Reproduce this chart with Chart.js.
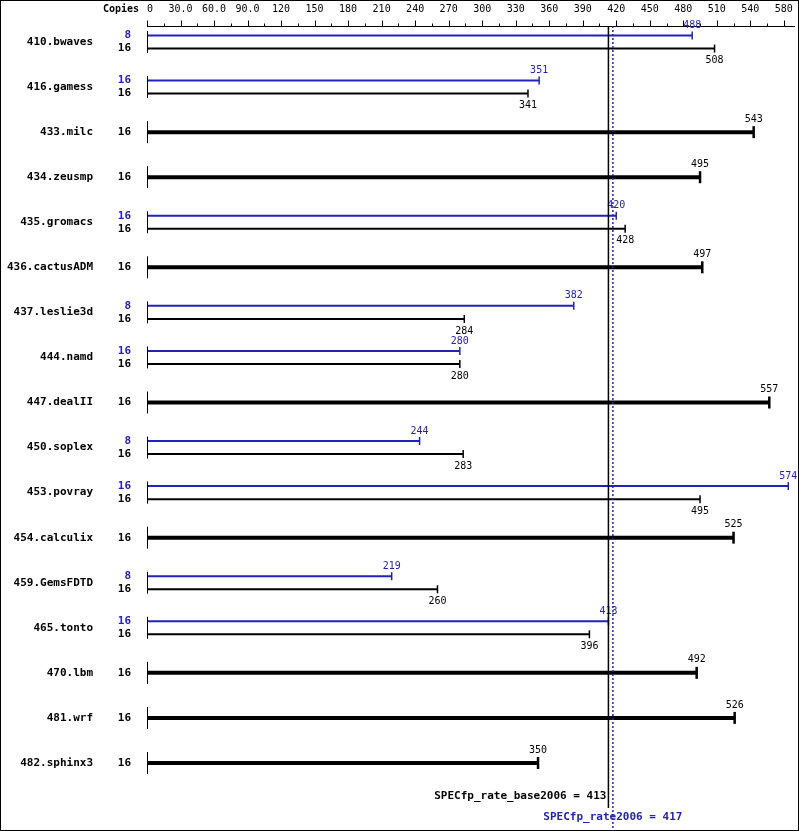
<!DOCTYPE html>
<html><head><meta charset="utf-8">
<script src="https://cdn.jsdelivr.net/npm/chart.js@4/dist/chart.umd.min.js"></script>
<style>html,body{margin:0;padding:0;background:#fff}#w{width:799px;height:831px;position:relative}</style>
</head><body><div id="w"><canvas id="c"></canvas></div>
<script>
const benchmarks=["410.bwaves","416.gamess","433.milc","434.zeusmp","435.gromacs","436.cactusADM","437.leslie3d","444.namd","447.dealII","450.soplex","453.povray","454.calculix","459.GemsFDTD","465.tonto","470.lbm","481.wrf","482.sphinx3"];
const baseValues=[508,341,543,495,428,497,284,280,557,283,495,525,260,396,492,526,350];
const peakValues=[488,351,null,null,420,null,382,280,null,244,574,null,219,413,null,null,null];
const baseCopies=[16,16,16,16,16,16,16,16,16,16,16,16,16,16,16,16,16];
const peakCopies=[8,16,null,null,16,null,8,16,null,8,16,null,8,16,null,null,null];
const axisTicks=[0,30,60,90,120,150,180,210,240,270,300,330,360,390,420,450,480,510,540,570];
const axisTickLabels=["0","30.0","60.0","90.0","120","150","180","210","240","270","300","330","360","390","420","450","480","510","540","580"];
const baseMean=413, peakMean=417;
const BLUE="#2222bb";
const pairedBase=baseValues.map((v,i)=>peakValues[i]!=null?v:null);
const soloBase=baseValues.map((v,i)=>peakValues[i]==null?v:null);
const MONO="'DejaVu Sans Mono', monospace";

const draw={id:'draw',afterDatasetsDraw(ch){
 const c=ch.ctx,x=ch.scales.x;
 c.save();
 c.strokeStyle="#000";c.lineWidth=1;c.strokeRect(0.5,0.5,798,830);
 const ay=26.5;
 c.beginPath();c.moveTo(x.getPixelForValue(0),ay);c.lineTo(x.getPixelForValue(580),ay);c.stroke();
 c.font="10px "+MONO;c.fillStyle="#000";c.textAlign="center";c.textBaseline="middle";
 for(let v=0;v<=570;v+=15){const px=Math.round(x.getPixelForValue(v))+0.5;c.beginPath();c.moveTo(px,ay);c.lineTo(px,ay-(v%30===0?6:3));c.stroke();}
 axisTicks.forEach((v,i)=>{const px=x.getPixelForValue(v);c.fillText(axisTickLabels[i],px+(i===0?3:0),9);});
 c.font="bold 10px "+MONO;c.textAlign="right";c.fillText("Copies",139,9);
 const metas=[ch.getDatasetMeta(0),ch.getDatasetMeta(1),ch.getDatasetMeta(2)];
 const x0=Math.round(x.getPixelForValue(0))+0.5;
 benchmarks.forEach((n,i)=>{
  const yc=ch.scales.y.getPixelForValue(i);
  c.strokeStyle="#000";c.lineWidth=1;c.beginPath();c.moveTo(x0,yc-11);c.lineTo(x0,yc+11);c.stroke();
  c.font="bold 11px "+MONO;c.textAlign="right";c.fillStyle="#000";c.fillText(n,93,yc);
  if(peakValues[i]!=null){
   const pb=metas[0].data[i],bb=metas[1].data[i];
   c.font="bold 11px "+MONO;c.textAlign="right";
   c.fillStyle=BLUE;c.fillText(peakCopies[i],131,pb.y);
   c.fillStyle="#000";c.fillText(baseCopies[i],131,bb.y);
   c.lineWidth=1.5;
   c.strokeStyle=BLUE;c.beginPath();c.moveTo(pb.x,pb.y-4);c.lineTo(pb.x,pb.y+4);c.stroke();
   c.strokeStyle="#000";c.beginPath();c.moveTo(bb.x,bb.y-4);c.lineTo(bb.x,bb.y+4);c.stroke();
   c.font="10px "+MONO;c.textAlign="center";
   c.fillStyle=BLUE;c.fillText(peakValues[i],pb.x,pb.y-10);
   c.fillStyle="#000";c.fillText(baseValues[i],bb.x,bb.y+12);
  }else{
   const sb=metas[2].data[i];
   c.font="bold 11px "+MONO;c.textAlign="right";c.fillStyle="#000";c.fillText(baseCopies[i],131,sb.y);
   c.lineWidth=2.5;c.strokeStyle="#000";c.beginPath();c.moveTo(sb.x,sb.y-6);c.lineTo(sb.x,sb.y+6);c.stroke();
   c.font="10px "+MONO;c.textAlign="center";c.fillText(baseValues[i],sb.x,sb.y-13);
  }
 });
 const bx=x.getPixelForValue(baseMean),px=x.getPixelForValue(peakMean);
 c.lineWidth=1.5;
 c.strokeStyle="#000";c.beginPath();c.moveTo(bx,26);c.lineTo(bx,808);c.stroke();
 c.setLineDash([2,2]);
 c.strokeStyle=BLUE;c.beginPath();c.moveTo(px,26);c.lineTo(px,831);c.stroke();
 c.setLineDash([]);
 c.font="bold 11px "+MONO;c.fillStyle="#000";c.textAlign="right";
 c.fillText("SPECfp_rate_base2006 = "+baseMean,bx-2,796);
 c.fillStyle=BLUE;c.textAlign="center";c.fillText("SPECfp_rate2006 = "+peakMean,px,817);
 c.restore();
}};

new Chart(document.getElementById('c'),{
 type:'bar',
 data:{labels:benchmarks,datasets:[
  {label:'peak',data:peakValues,backgroundColor:BLUE,skipNull:true},
  {label:'base',data:pairedBase,backgroundColor:'#000',skipNull:true},
  {label:'baseSolo',data:soloBase,backgroundColor:'#000',skipNull:true}
 ]},
 plugins:[draw],
 options:{indexAxis:'y',responsive:true,maintainAspectRatio:false,animation:false,
  categoryPercentage:0.58,barPercentage:0.153,
  layout:{padding:{left:147,right:4,top:19.5,bottom:45.5}},
  plugins:{legend:{display:false},tooltip:{enabled:false}},
  scales:{x:{min:0,max:580,display:false},y:{display:false}}}
});
</script></body></html>
